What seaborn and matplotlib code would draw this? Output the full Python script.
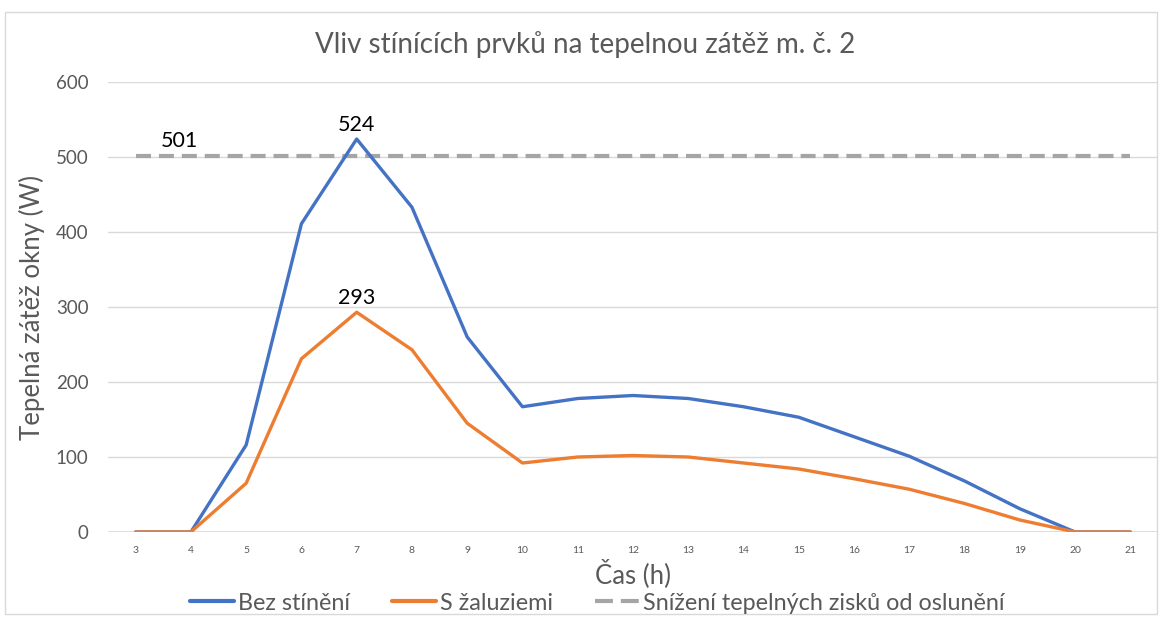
import matplotlib
matplotlib.use("Agg")
import matplotlib.pyplot as plt
import seaborn as sns
import pandas as pd
from matplotlib.patches import Rectangle
from matplotlib.lines import Line2D

hours = [3, 4, 5, 6, 7, 8, 9, 10, 11, 12, 13, 14, 15, 16, 17, 18, 19, 20, 21]
bez_stineni = [0, 0, 116, 411, 524, 433, 260, 167, 178, 182, 178, 167, 153, 127, 101, 68, 31, 0, 0]
s_zaluziemi = [0, 0, 65, 231, 293, 243, 145, 92, 100, 102, 100, 92, 84, 71, 57, 38, 16, 0, 0]
snizeni = [501] * len(hours)

title = "Vliv stínících prvků na tepelnou zátěž m. č. 2"
xlabel = "Čas (h)"
ylabel = "Tepelná zátěž okny (W)"
names = ["Bez stínění", "S žaluziemi", "Snížení tepelných zisků od oslunění"]

sns.set_theme(style="white")
plt.rcParams['font.family'] = ['Lato', 'DejaVu Sans']

fig = plt.figure(figsize=(11.64, 6.27), dpi=100)
ax = fig.add_axes([108/1164, 1-532/627, (1158-108)/1164, (532-82)/627])

c_blue = "#4472C4"
c_orange = "#ED7D31"
c_gray = "#A5A5A5"
txt = "#595959"

df = pd.DataFrame({"h": hours, "b": bez_stineni, "s": s_zaluziemi, "n": snizeni})
sns.lineplot(data=df, x="h", y="n", ax=ax, color=c_gray, lw=3, linestyle=(0, (3.6, 1.9)),
             dash_capstyle="butt")
sns.lineplot(data=df, x="h", y="b", ax=ax, color=c_blue, lw=2.4)
sns.lineplot(data=df, x="h", y="s", ax=ax, color=c_orange, lw=2.4)

ax.set_xlim(2.5, 21.5)
ax.set_ylim(0, 600)
ax.set_yticks(range(0, 601, 100))
ax.set_xticks(hours)
ax.set_xticklabels([str(h) for h in hours], fontsize=7.5, color=txt)
ax.tick_params(axis="y", labelsize=13.5, colors=txt, length=0, pad=14)
ax.tick_params(axis="x", length=0, pad=10)
ax.grid(axis="y", color="#D9D9D9", lw=1)
ax.grid(axis="x", visible=False)
for s in ax.spines.values():
    s.set_visible(False)
ax.axhline(0, color="#D9D9D9", lw=1.2, zorder=0)

ax.set_xlabel(xlabel, fontsize=18.5, color=txt, labelpad=3)
ax.set_ylabel(ylabel, fontsize=18.5, color=txt, labelpad=8)

# data labels
i7 = hours.index(7)
ax.annotate(str(bez_stineni[i7]), (hours[i7], bez_stineni[i7]), xytext=(0, 3),
            textcoords="offset points", ha="center", va="bottom", fontsize=15.5, color="black")
ax.annotate(str(s_zaluziemi[i7]), (hours[i7], s_zaluziemi[i7]), xytext=(0, 3),
            textcoords="offset points", ha="center", va="bottom", fontsize=15.5, color="black")
ax.annotate(str(snizeni[1]), (hours[1], snizeni[1]), xytext=(-8, 4),
            textcoords="offset points", ha="center", va="bottom", fontsize=15.5, color="black")

fig.text(585/1164, 1-45/627, title, ha="center", va="center", fontsize=20, color=txt)

handles = [Line2D([], [], color=c_blue, lw=3),
           Line2D([], [], color=c_orange, lw=3),
           Line2D([], [], color=c_gray, lw=3, linestyle=(0, (4.3, 1.9)), dash_capstyle="butt")]
fig.legend(handles, names, loc="center", bbox_to_anchor=(597/1164, 1-603/627), ncol=3,
           frameon=False, fontsize=16.8, labelcolor=txt, handlelength=1.9, handletextpad=0.15,
           columnspacing=1.8)

fig.patches.append(Rectangle((5/1164, 1-614/627), (1157-5)/1164, (614-12)/627,
                             transform=fig.transFigure, fill=False, ec="#D9D9D9", lw=1))

fig.savefig("out.png", dpi=100)
